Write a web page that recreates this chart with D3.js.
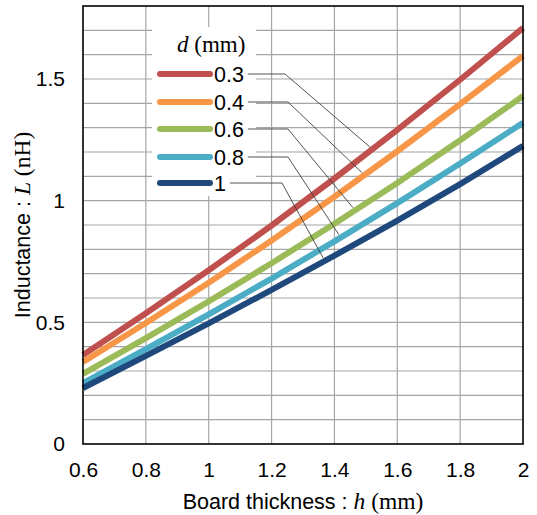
<!DOCTYPE html>
<html>
<head>
<meta charset="utf-8">
<script src="https://cdn.jsdelivr.net/npm/d3@7"></script>
<style>
  body { margin: 0; background: #fff; }
  text { font-family: "Liberation Sans", Arial, sans-serif; }
  .serif { font-family: "Liberation Serif", "Times New Roman", serif; }
</style>
</head>
<body>
<svg id="chart" width="537" height="515"></svg>
<script>
// data
const thickness = [0.6, 0.8, 1.0, 1.2, 1.4, 1.6, 1.8, 2.0];
const diameters = ['0.3', '0.4', '0.6', '0.8', '1'];
const L_03 = [0.366, 0.537, 0.714, 0.898, 1.091, 1.291, 1.497, 1.71];
const L_04 = [0.337, 0.497, 0.663, 0.836, 1.016, 1.203, 1.397, 1.595];
const L_06 = [0.288, 0.435, 0.586, 0.743, 0.905, 1.073, 1.248, 1.43];
const L_08 = [0.25, 0.39, 0.533, 0.68, 0.833, 0.99, 1.153, 1.32];
const L_1 = [0.23, 0.362, 0.496, 0.633, 0.774, 0.918, 1.068, 1.225];
const colors = ['#C0504D', '#F79646', '#9BBB59', '#4BACC6', '#1F497D'];
const xTicks = [0.6, 0.8, 1, 1.2, 1.4, 1.6, 1.8, 2];
const yLabelTicks = [0, 0.5, 1, 1.5];
// where each label's leader line touches its curve (board thickness)
const leaderH = [1.513, 1.488, 1.459, 1.414, 1.364];

const series = [L_03, L_04, L_06, L_08, L_1].map((vals, i) => ({
  name: diameters[i],
  color: colors[i],
  values: thickness.map((h, j) => ({ h: h, L: vals[j] }))
}));

const svg = d3.select('#chart');
const pLeft = 83, pRight = 523, pTop = 6, pBottom = 444;

const x = d3.scaleLinear().domain([0.6, 2]).range([pLeft, pRight]);
const y = d3.scaleLinear().domain([0, 1.8]).range([pBottom, pTop]);

// grid
const grid = svg.append('g');
grid.selectAll('.hg')
  .data(d3.range(1, 18).map(d => d / 10))
  .enter().append('line')
  .attr('x1', pLeft).attr('x2', pRight)
  .attr('y1', d => y(d)).attr('y2', d => y(d))
  .attr('stroke', '#a6a6a6').attr('stroke-width', 1.2);
grid.selectAll('.vg')
  .data(xTicks.slice(1, -1))
  .enter().append('line')
  .attr('x1', d => x(d)).attr('x2', d => x(d))
  .attr('y1', pTop).attr('y2', pBottom)
  .attr('stroke', '#a6a6a6').attr('stroke-width', 1.2);

// axes
const xAxis = svg.append('g')
  .attr('transform', `translate(0,${pBottom})`)
  .call(d3.axisBottom(x).tickValues(xTicks).tickSize(0).tickPadding(18).tickFormat(d3.format('')));
const yAxis = svg.append('g')
  .attr('transform', `translate(${pLeft},0)`)
  .call(d3.axisLeft(y).tickValues(yLabelTicks).tickSize(0).tickPadding(18).tickFormat(d3.format('')));
[xAxis, yAxis].forEach(a => {
  a.select('.domain').remove();
  a.selectAll('text').attr('font-size', 21).attr('fill', '#000')
    .style('font-family', '"Liberation Sans", Arial, sans-serif');
});

// curves
const line = d3.line().x(d => x(d.h)).y(d => y(d.L));
svg.append('g').selectAll('path')
  .data(series)
  .enter().append('path')
  .attr('d', d => line(d.values))
  .attr('fill', 'none')
  .attr('stroke', d => d.color)
  .attr('stroke-width', 6);

// frame
svg.append('rect')
  .attr('x', pLeft).attr('y', pTop)
  .attr('width', pRight - pLeft).attr('height', pBottom - pTop)
  .attr('fill', 'none').attr('stroke', '#000').attr('stroke-width', 1.6);

// legend
const legend = svg.append('g');
legend.append('rect')
  .attr('x', 152).attr('y', 27).attr('width', 104).attr('height', 169)
  .attr('fill', '#fff');

const title = legend.append('text')
  .attr('class', 'serif')
  .attr('x', 177).attr('y', 52)
  .attr('font-size', 23);
title.append('tspan').attr('font-style', 'italic').text('d');
title.append('tspan').text(' (mm)');

const rowY = [74, 102, 129, 157, 183];
const elbowX = [285, 288, 288, 288, 282];

series.forEach((s, i) => {
  const ry = rowY[i];
  legend.append('line')
    .attr('x1', 160).attr('x2', 210)
    .attr('y1', ry).attr('y2', ry)
    .attr('stroke', s.color).attr('stroke-width', 6)
    .attr('stroke-linecap', 'round');
  const t = legend.append('text')
    .attr('x', 214).attr('y', ry + 8)
    .attr('font-size', 21.5)
    .text(s.name);
  const endX = 214 + t.node().getComputedTextLength() + 4;
  const h = leaderH[i];
  const L = d3.scaleLinear().domain(thickness).range(s.values.map(v => v.L))(h);
  legend.append('polyline')
    .attr('points', `${endX},${ry} ${elbowX[i]},${ry} ${x(h)},${y(L) - 4}`)
    .attr('fill', 'none')
    .attr('stroke', '#404040').attr('stroke-width', 0.9);
});

// axis titles
const xt = svg.append('text')
  .attr('x', (pLeft + pRight) / 2).attr('y', 509)
  .attr('text-anchor', 'middle')
  .attr('font-size', 21.5);
xt.append('tspan').text('Board thickness : ');
xt.append('tspan').attr('class', 'serif').attr('font-style', 'italic').attr('font-size', 23.5).text('h');
xt.append('tspan').attr('class', 'serif').attr('font-size', 23.5).text(' (mm)');

const yt = svg.append('text')
  .attr('transform', `translate(30,${(pTop + pBottom) / 2}) rotate(-90)`)
  .attr('text-anchor', 'middle')
  .attr('font-size', 21.5);
yt.append('tspan').text('Inductance : ');
yt.append('tspan').attr('class', 'serif').attr('font-style', 'italic').attr('font-size', 23.5).text('L');
yt.append('tspan').attr('class', 'serif').attr('font-size', 23.5).text(' (nH)');
</script>
</body>
</html>
